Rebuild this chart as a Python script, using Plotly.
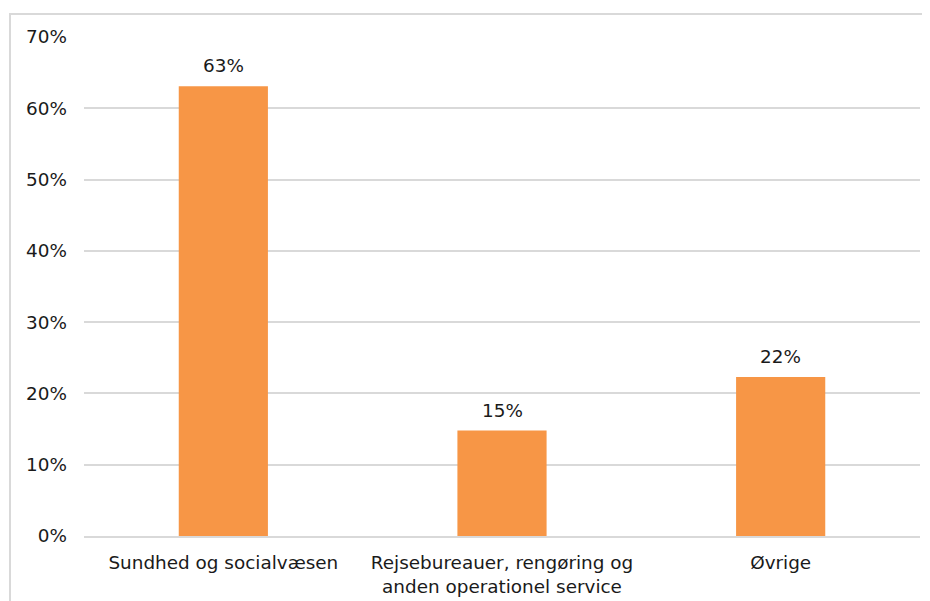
import plotly.graph_objects as go

# Andel fordelt på brancher
categories = ["Sundhed og socialvæsen",
              "Rejsebureauer, rengøring og<br>anden operationel service",
              "Øvrige"]
shares = [0.631, 0.148, 0.223]
tick_values = [0, 0.1, 0.2, 0.3, 0.4, 0.5, 0.6, 0.7]
tick_labels = ["0%", "10%", "20%", "30%", "40%", "50%", "60%", "70%"]

fig = go.Figure(go.Bar(
    x=categories,
    y=shares,
    marker=dict(color="#F79646", line=dict(width=0)),
    hoverinfo="skip",
))

# value labels above the bars
for cat, val in zip(categories, shares):
    fig.add_annotation(x=cat, y=val, text=f"{val:.0%}", showarrow=False,
                       yanchor="bottom", yshift=8,
                       font=dict(size=18.4, color="#1a1a1a"))

# page body has an 8px margin, so the figure is 8px smaller each way
fig.update_layout(
    width=922,
    height=593,
    margin=dict(l=76, r=10, t=29, b=65),
    paper_bgcolor="white",
    plot_bgcolor="white",
    font=dict(family="DejaVu Sans", size=18.4, color="#1a1a1a"),
    bargap=0.68,
    showlegend=False,
    # outer frame of the chart
    shapes=[dict(type="rect", xref="paper", yref="paper",
                 x0=-0.0885, x1=1.2, y0=-0.3, y1=1.046,
                 line=dict(color="#d9d9d9", width=2), layer="below")],
)

fig.update_yaxes(range=[0, 0.7], tickvals=tick_values, ticktext=tick_labels,
                 showgrid=True, gridcolor="#d9d9d9", gridwidth=1.5,
                 zeroline=False, showline=False, ticks="", ticklabelstandoff=16,
                 automargin=False)
fig.update_xaxes(showline=True, linecolor="#d9d9d9", linewidth=1.5,
                 ticks="", ticklabelstandoff=9, automargin=False)

fig.write_html("out.html")
